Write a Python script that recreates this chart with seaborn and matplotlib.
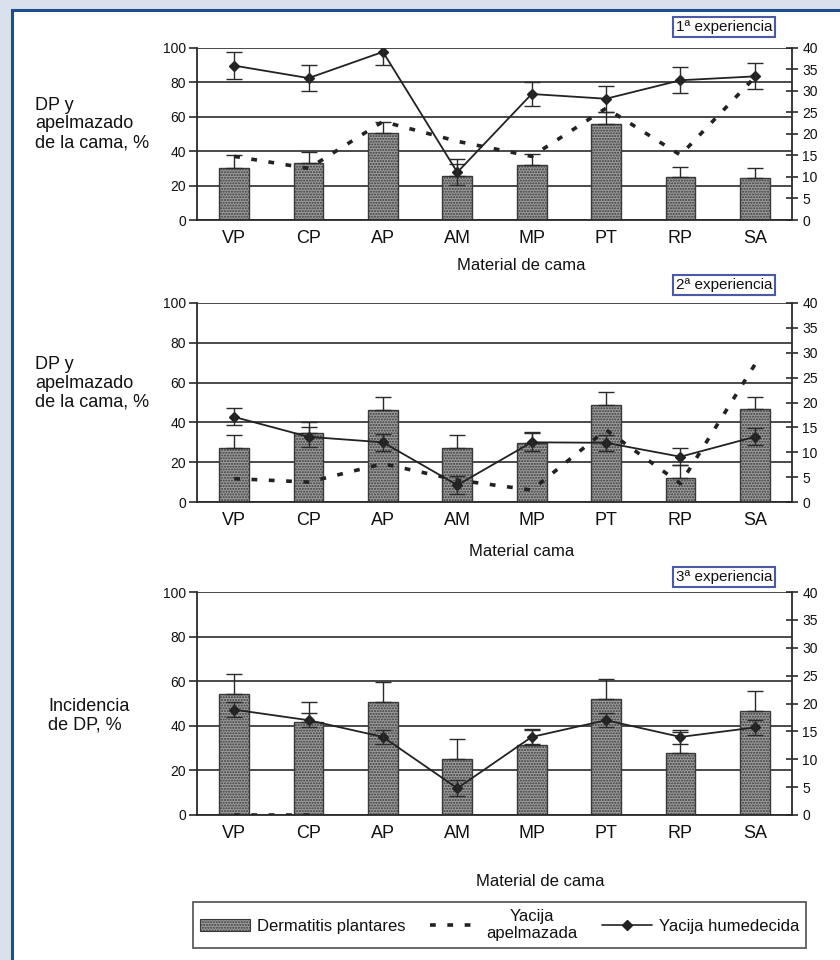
import numpy as np
import pandas as pd
import matplotlib
matplotlib.use("Agg")
import matplotlib.pyplot as plt
import matplotlib.patches as mpatches
import matplotlib.lines as mlines
import seaborn as sns

# ---------------- data ----------------
categories = ["VP", "CP", "AP", "AM", "MP", "PT", "RP", "SA"]

# Dermatitis plantares (%), left axis
dp_1 = [30.5, 33.4, 50.5, 25.6, 31.7, 55.7, 25.2, 24.3]
dp_err_1 = [7.0, 6.0, 6.4, 7.0, 6.7, 7.3, 5.8, 5.7]
dp_2 = [27.2, 34.5, 46.2, 27.2, 29.7, 48.7, 12.1, 46.7]
dp_err_2 = [6.4, 5.8, 6.4, 6.4, 5.6, 6.4, 6.4, 6.2]
dp_3 = [54.2, 41.8, 50.7, 25.1, 31.3, 51.9, 27.9, 46.7]
dp_err_3 = [8.9, 8.9, 9.0, 9.2, 7.1, 9.3, 9.4, 9.0]

# Yacija humedecida (right axis)
hum_1 = [35.9, 33.0, 39.1, 11.1, 29.3, 28.2, 32.5, 33.4]
hum_err_1 = [3.1, 3.0, 3.0, 3.0, 2.9, 3.0, 3.0, 3.0]
hum_2 = [17.1, 13.1, 12.0, 3.4, 12.0, 11.9, 9.1, 13.1]
hum_err_2 = [1.7, 2.0, 1.7, 1.8, 1.8, 1.6, 1.7, 1.7]
hum_3 = [18.9, 17.0, 14.0, 4.8, 14.0, 17.0, 14.0, 15.7]
hum_err_3 = [1.4, 1.3, 1.3, 1.4, 1.3, 1.3, 1.2, 1.4]

# Yacija apelmazada (right axis)
apel_1 = [14.8, 12.0, 22.9, 18.3, 14.8, 26.0, 15.1, 33.2]
apel_2 = [4.7, 4.0, 7.7, 4.4, 2.4, 14.5, 3.7, 27.6]
apel_3 = [0.0, 0.0, None, None, None, None, None, None]

left_ticks = [0, 20, 40, 60, 80, 100]
right_ticks = [0, 5, 10, 15, 20, 25, 30, 35, 40]

titles = ["1ª experiencia", "2ª experiencia", "3ª experiencia"]
xlabels = ["Material de cama", "Material cama", "Material de cama"]
ylabels = ["DP y\napelmazado\nde la cama, %", "DP y\napelmazado\nde la cama, %", "Incidencia\nde DP, %"]
legend_labels = ["Dermatitis plantares", "Yacija\napelmazada", "Yacija humedecida"]

# ---------------- style ----------------
sns.set_style("white")
plt.rcParams["font.family"] = ["Liberation Sans Narrow", "Liberation Sans", "DejaVu Sans"]
plt.rcParams["hatch.linewidth"] = 1.0

W, H = 840, 960
fig = plt.figure(figsize=(W / 100, H / 100), dpi=100)
fig.patch.set_facecolor("#d9e1ec")

# white frame with blue border
frame = mpatches.Rectangle((12 / W, -0.02), 1.0, 1 - 10 / H + 0.02, transform=fig.transFigure,
                           facecolor="white", edgecolor="#1f4e8f", linewidth=2.2, zorder=-10)
fig.patches.append(frame)

INK = "#2a2a2a"
BAR_FACE = "#9c9c9c"
BAR_EDGE = "#3a3a3a"
HATCH = "......"

# axes rects in pixel coords: (left, top, right, bottom)
rects = [(197, 48, 792, 220), (197, 303, 792, 502), (197, 592, 792, 815)]

panels = [
    (dp_1, dp_err_1, hum_1, hum_err_1, apel_1),
    (dp_2, dp_err_2, hum_2, hum_err_2, apel_2),
    (dp_3, dp_err_3, hum_3, hum_err_3, apel_3),
]

ylabel_pos = [(35, 124), (35, 383), (48, 716)]
xlabel_pos = [(521, 265), (522, 552), (540, 882)]
title_pos = [(724, 27), (724, 285), (724, 577)]

for i, ((l, t, r, b), (dp, dpe, hum, hume, apel)) in enumerate(zip(rects, panels)):
    ax = fig.add_axes([l / W, 1 - b / H, (r - l) / W, (b - t) / H])
    ax.set_facecolor("none")
    df = pd.DataFrame({"cat": categories, "dp": dp})
    sns.barplot(data=df, x="cat", y="dp", ax=ax, color=BAR_FACE, width=0.4,
                errorbar=None, edgecolor=BAR_EDGE, linewidth=1.0, saturation=1, zorder=2)
    for p in ax.patches:
        p.set_hatch(HATCH)
    x = np.arange(len(categories))
    ax.errorbar(x, dp, yerr=[np.zeros(len(dp)), dpe], fmt="none", ecolor=INK,
                elinewidth=1.0, capsize=6, capthick=1.0, zorder=3)
    ax.set_ylim(0, 100)
    ax.set_xlim(-0.5, 7.5)
    ax.set_yticks(left_ticks)
    ax.yaxis.grid(True, color="#3c3c3c", linewidth=1.3, zorder=0)
    ax.set_axisbelow(True)
    ax.set_xticks(x)
    ax.set_xticklabels(categories, fontsize=13)
    ax.set_xticks(np.arange(0.5, 7.5, 1.0), minor=True)
    ax.tick_params(axis="x", which="major", length=0, pad=7, colors="#111")
    ax.tick_params(axis="x", which="minor", length=9, direction="inout", width=1.2, color=INK)
    ax.tick_params(axis="y", which="major", length=6, direction="out", width=1.2, color=INK,
                   labelsize=10, pad=2, labelcolor="#111")
    ax.set_xlabel("")
    ax.set_ylabel("")
    for s in ["top", "right"]:
        ax.spines[s].set_visible(False)
    for s in ["left", "bottom"]:
        ax.spines[s].set_color(INK)
        ax.spines[s].set_linewidth(1.3)

    ax2 = ax.twinx()
    ax2.set_ylim(0, 40)
    ax2.set_yticks(right_ticks)
    ax2.tick_params(axis="y", length=9, direction="inout", width=1.2, color=INK,
                    labelsize=10, pad=3, labelcolor="#111")
    for s in ["top", "left", "bottom"]:
        ax2.spines[s].set_visible(False)
    ax2.spines["right"].set_color(INK)
    ax2.spines["right"].set_linewidth(1.3)

    apel_arr = np.array([np.nan if v is None else v for v in apel], dtype=float)
    ax2.plot(x, apel_arr, color="#222", linestyle=(0, (1.6, 3.2)), linewidth=2.6, zorder=3)

    hdf = pd.DataFrame({"cat": categories, "hum": hum})
    sns.pointplot(data=hdf, x="cat", y="hum", ax=ax2, color="#222", markers="D",
                  linestyles="-", errorbar=None, markersize=5, linewidth=1.3)
    ax2.errorbar(x, hum, yerr=hume, fmt="none", ecolor=INK, elinewidth=1.0,
                 capsize=6, capthick=1.0, zorder=4)
    ax2.set_xlim(-0.5, 7.5)
    ax2.set_xlabel("")
    ax2.set_ylabel("")

    fig.text(ylabel_pos[i][0] / W, 1 - ylabel_pos[i][1] / H, ylabels[i], ha="left", va="center",
             fontsize=13, color="#111", linespacing=1.15)
    fig.text(xlabel_pos[i][0] / W, 1 - xlabel_pos[i][1] / H, xlabels[i], ha="center", va="center",
             fontsize=12, color="#111")
    fig.text(title_pos[i][0] / W, 1 - title_pos[i][1] / H, titles[i], ha="center", va="center",
             fontsize=11, color="#111",
             bbox=dict(boxstyle="square,pad=0.2", facecolor="white", edgecolor="#4a5aa8", linewidth=1.5))

# legend
h_bar = mpatches.Patch(facecolor=BAR_FACE, edgecolor=BAR_EDGE, hatch=HATCH, linewidth=0.8)
h_apel = mlines.Line2D([], [], color="#222", linestyle=(0, (1.6, 3.2)), linewidth=2.6)
h_hum = mlines.Line2D([], [], color="#222", linestyle="-", linewidth=1.2, marker="D", markersize=5)
leg = fig.legend([h_bar, h_apel, h_hum], legend_labels, loc="lower left",
                 bbox_to_anchor=(185 / W, 4 / H, 629 / W, 46 / H), mode="expand", ncol=3,
                 fontsize=12, frameon=True, fancybox=False, edgecolor="#333", handlelength=3.0,
                 handletextpad=0.4, borderpad=0.4, columnspacing=1.0)
leg.get_frame().set_linewidth(1.3)
for t in leg.get_texts():
    t.set_color("#111")
    t.set_multialignment("center")

fig.savefig("out.png", dpi=100, facecolor=fig.get_facecolor())
